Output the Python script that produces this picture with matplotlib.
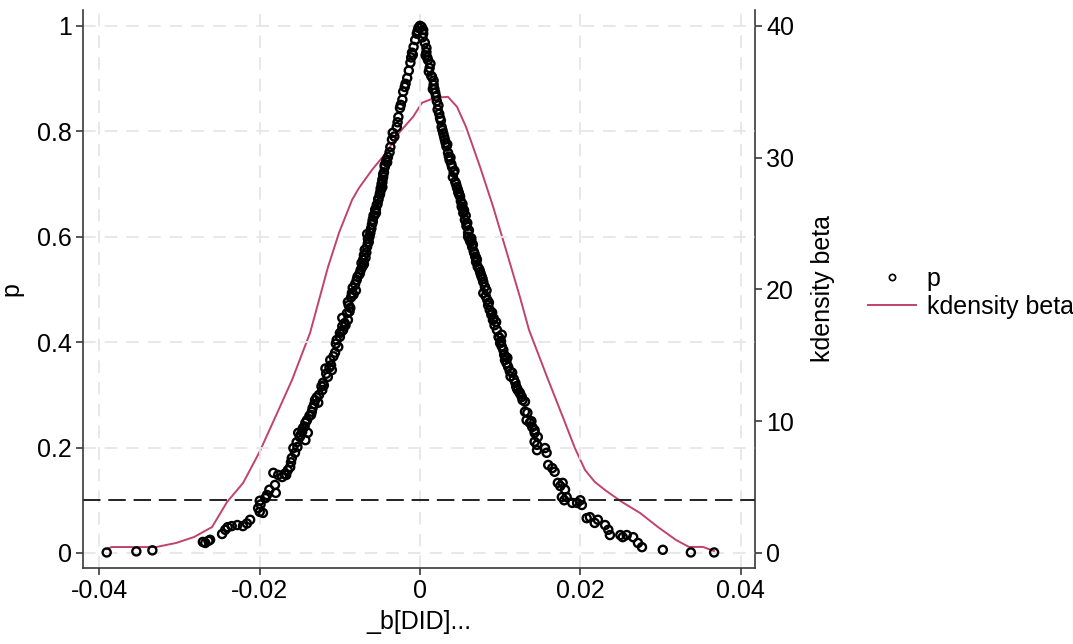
import matplotlib
matplotlib.use("Agg")
import matplotlib.pyplot as plt
from matplotlib.lines import Line2D

plt.rcParams['font.family'] = ['Liberation Sans', 'DejaVu Sans']
plt.rcParams['axes.unicode_minus'] = False

# ---- scatter data: placebo coefficient (beta) and p-value ----
left_beta = [-0.0391, -0.0354, -0.0334,
             -0.0271, -0.0268, -0.0264, -0.0262, -0.0247, -0.0243, -0.0240, -0.0235, -0.0228, -0.0221,
             -0.0216, -0.0212, -0.0200, -0.0196, -0.0202, -0.0199, -0.0200, -0.0193, -0.0191, -0.0188,
             -0.0180, -0.0181, -0.0183, -0.0177, -0.0172, -0.0169, -0.0167, -0.0165, -0.0162, -0.0161,
             -0.0160, -0.0156, -0.0158, -0.0153, -0.0143, -0.0150, -0.0152, -0.0147, -0.0140, -0.0146,
             -0.0143, -0.0141, -0.0138, -0.0135, -0.0134, -0.0132, -0.0131, -0.0126, -0.0122, -0.0123,
             -0.0121, -0.0115, -0.0117, -0.0110, -0.0111, -0.0112, -0.0108, -0.0106, -0.0102, -0.0105,
             -0.0104, -0.0100, -0.0100, -0.0096, -0.0097, -0.0094, -0.0090, -0.0097, -0.0091, -0.0087,
             -0.0089, -0.0090, -0.0086, -0.0085, -0.0084, -0.0081, -0.0079, -0.0078, -0.0075, -0.0074,
             -0.0072, -0.0073, -0.0071, -0.0070, -0.0069, -0.0066, -0.0065, -0.0065, -0.0062, -0.0061,
             -0.0060, -0.0059, -0.0058, -0.0056, -0.0054, -0.0052, -0.0050, -0.0049, -0.0047, -0.0047,
             -0.0046, -0.0045, -0.0044, -0.0041, -0.0040, -0.0038, -0.0037, -0.0035, -0.0034, -0.0029,
             -0.0028, -0.0027, -0.0025, -0.0022, -0.0021, -0.0019, -0.0016, -0.0014, -0.0012, -0.0011,
             -0.0010, -0.0008, -0.0006, -0.0004, -0.0002, 0.0000,
             -0.0057, -0.0053, -0.0050, -0.0048, -0.0046, -0.0044, -0.0061, -0.0063, -0.0067, -0.0068,
             -0.0154, -0.0149, -0.0129, -0.0118, -0.0098, -0.0083, -0.0076, -0.0064, -0.0055, -0.0042,
             -0.0032, -0.0024, -0.0018, -0.0009, -0.0003,
             -0.0059, -0.0055, -0.0052, -0.0049, -0.0047, -0.0070, -0.0066, -0.0080, -0.0088, -0.0093,
             -0.0113, -0.0120, -0.0127, -0.0136, -0.0144]
left_p = [0.001, 0.003, 0.005,
          0.021, 0.019, 0.023, 0.025, 0.036, 0.044, 0.049, 0.051, 0.053, 0.051,
          0.056, 0.063, 0.078, 0.076, 0.085, 0.092, 0.099, 0.104, 0.110, 0.120,
          0.114, 0.129, 0.152, 0.148, 0.144, 0.150, 0.148, 0.157, 0.163, 0.172,
          0.180, 0.190, 0.199, 0.201, 0.214, 0.220, 0.228, 0.230, 0.228, 0.237,
          0.247, 0.252, 0.260, 0.268, 0.275, 0.282, 0.290, 0.300, 0.309, 0.316,
          0.323, 0.334, 0.340, 0.347, 0.356, 0.366, 0.373, 0.380, 0.391, 0.397,
          0.404, 0.410, 0.417, 0.423, 0.430, 0.436, 0.442, 0.446, 0.455, 0.465,
          0.470, 0.476, 0.485, 0.493, 0.503, 0.510, 0.518, 0.524, 0.531, 0.537,
          0.543, 0.550, 0.556, 0.565, 0.575, 0.581, 0.588, 0.596, 0.607, 0.615,
          0.623, 0.632, 0.640, 0.651, 0.660, 0.670, 0.680, 0.688, 0.694, 0.703,
          0.713, 0.722, 0.732, 0.741, 0.751, 0.760, 0.770, 0.784, 0.797, 0.808,
          0.817, 0.827, 0.844, 0.860, 0.875, 0.884, 0.901, 0.915, 0.930, 0.940,
          0.949, 0.960, 0.973, 0.985, 0.996, 1.000,
          0.640, 0.662, 0.682, 0.700, 0.718, 0.736, 0.615, 0.600, 0.570, 0.560,
          0.210, 0.224, 0.295, 0.350, 0.420, 0.490, 0.528, 0.590, 0.645, 0.745,
          0.790, 0.850, 0.890, 0.945, 0.990,
          0.628, 0.652, 0.672, 0.692, 0.708, 0.548, 0.605, 0.498, 0.458, 0.432,
          0.352, 0.318, 0.285, 0.262, 0.240]

right_beta = [0.0002, 0.0004, 0.0006, 0.0008, 0.0010, 0.0012, 0.0015, 0.0017, 0.0019, 0.0021,
              0.0022, 0.0025, 0.0027, 0.0029, 0.0031, 0.0033, 0.0035, 0.0037, 0.0040, 0.0041,
              0.0044, 0.0046, 0.0048, 0.0050, 0.0051, 0.0052, 0.0054, 0.0056, 0.0058, 0.0060,
              0.0062, 0.0060, 0.0063, 0.0065, 0.0067, 0.0069, 0.0070, 0.0072, 0.0075, 0.0077,
              0.0079, 0.0079, 0.0082, 0.0084, 0.0085, 0.0087, 0.0089, 0.0091, 0.0093, 0.0096,
              0.0102, 0.0098, 0.0100, 0.0102, 0.0104, 0.0105, 0.0106, 0.0108, 0.0110, 0.0115,
              0.0113, 0.0119, 0.0120, 0.0122, 0.0125, 0.0127, 0.0131, 0.0131, 0.0134, 0.0133,
              0.0137, 0.0140, 0.0143, 0.0143, 0.0147, 0.0143, 0.0146, 0.0146, 0.0156, 0.0158,
              0.0160, 0.0165, 0.0168, 0.0172, 0.0178, 0.0175, 0.0181, 0.0177, 0.0183, 0.0180,
              0.0190, 0.0196, 0.0200, 0.0202, 0.0208, 0.0212, 0.0218, 0.0222, 0.0231, 0.0235,
              0.0237, 0.0250, 0.0253, 0.0258, 0.0266, 0.0272, 0.0277, 0.0303, 0.0338, 0.0367,
              0.0004, 0.0008, 0.0013, 0.0017, 0.0020, 0.0024, 0.0028, 0.0032, 0.0036, 0.0039,
              0.0043, 0.0047, 0.0053, 0.0057, 0.0061, 0.0066, 0.0071, 0.0074, 0.0081, 0.0090,
              0.0003, 0.0007, 0.0011, 0.0016, 0.0023, 0.0030, 0.0038, 0.0045, 0.0049, 0.0055,
              0.0059, 0.0064, 0.0068, 0.0076, 0.0086, 0.0095, 0.0101, 0.0109, 0.0117, 0.0124,
              0.0009, 0.0014, 0.0018, 0.0026, 0.0034, 0.0042, 0.0048, 0.0053, 0.0058, 0.0064,
              0.0070, 0.0078, 0.0083, 0.0092, 0.0099, 0.0107, 0.0112, 0.0121, 0.0128, 0.0139]
right_p = [0.998, 0.985, 0.968, 0.950, 0.935, 0.920, 0.903, 0.888, 0.873, 0.857,
           0.841, 0.825, 0.808, 0.796, 0.784, 0.771, 0.759, 0.745, 0.732, 0.713,
           0.704, 0.694, 0.685, 0.676, 0.667, 0.657, 0.645, 0.632, 0.620, 0.607,
           0.594, 0.600, 0.590, 0.581, 0.572, 0.562, 0.552, 0.543, 0.533, 0.524,
           0.514, 0.493, 0.487, 0.480, 0.470, 0.461, 0.452, 0.442, 0.432, 0.423,
           0.414, 0.410, 0.398, 0.392, 0.385, 0.376, 0.366, 0.360, 0.353, 0.342,
           0.335, 0.323, 0.316, 0.309, 0.302, 0.296, 0.287, 0.268, 0.266, 0.252,
           0.247, 0.239, 0.233, 0.228, 0.220, 0.211, 0.205, 0.195, 0.199, 0.190,
           0.167, 0.161, 0.154, 0.133, 0.133, 0.127, 0.120, 0.106, 0.106, 0.100,
           0.095, 0.095, 0.100, 0.091, 0.066, 0.068, 0.057, 0.063, 0.053, 0.044,
           0.034, 0.034, 0.030, 0.034, 0.030, 0.019, 0.011, 0.006, 0.001, 0.001,
           0.992, 0.958, 0.928, 0.896, 0.866, 0.833, 0.802, 0.778, 0.752, 0.738,
           0.725, 0.690, 0.662, 0.640, 0.612, 0.585, 0.556, 0.538, 0.505, 0.456,
           0.978, 0.944, 0.913, 0.880, 0.849, 0.790, 0.750, 0.700, 0.680, 0.650,
           0.626, 0.597, 0.568, 0.528, 0.475, 0.438, 0.402, 0.370, 0.330, 0.305,
           0.940, 0.905, 0.880, 0.820, 0.775, 0.722, 0.683, 0.655, 0.625, 0.592,
           0.560, 0.520, 0.498, 0.445, 0.408, 0.372, 0.345, 0.312, 0.290, 0.250]

# ---- kernel density of beta (right axis) ----
kd_x = [-0.03905, -0.0385, -0.0338, -0.03294, -0.03044, -0.0282, -0.02595, -0.02408, -0.02208,
        -0.02009, -0.01822, -0.01597, -0.01372, -0.01260, -0.01148, -0.01011, -0.00848, -0.00761,
        -0.00599, -0.00424, -0.00262, -0.00087, 0.00025, 0.00187, 0.00349, 0.00462, 0.00574,
        0.00749, 0.00911, 0.01073, 0.01248, 0.01360, 0.01585, 0.01797, 0.01930, 0.02059,
        0.02180, 0.02308, 0.02520, 0.02745, 0.02969, 0.03194, 0.03356, 0.03531, 0.03668]
kd_y = [0.30, 0.45, 0.45, 0.45, 0.76, 1.21, 1.97, 3.87, 5.31,
        7.59, 10.09, 13.13, 16.70, 19.20, 21.70, 24.29, 26.79, 27.70,
        29.07, 30.36, 31.88, 33.09, 34.16, 34.54, 34.61, 33.85, 32.33,
        29.30, 26.30, 23.00, 19.40, 16.93, 13.36, 10.09, 8.00, 6.30,
        5.40, 4.78, 3.87, 3.04, 1.97, 0.99, 0.46, 0.46, 0.15]

x_ticks = [-0.04, -0.02, 0, 0.02, 0.04]
x_ticklabels = ["-0.04", "-0.02", "0", "0.02", "0.04"]
y_ticks = [0, 0.2, 0.4, 0.6, 0.8, 1]
y_ticklabels = ["0", "0.2", "0.4", "0.6", "0.8", "1"]
y2_ticks = [0, 10, 20, 30, 40]
y2_ticklabels = ["0", "10", "20", "30", "40"]
p_threshold = 0.1

FS = 18
line_col = '#c0426f'
spine_col = '#3a3a3a'

fig = plt.figure(figsize=(10.73, 6.44), dpi=100)
ax = fig.add_axes([0.0774, 0.118, 0.6262, 0.8665])
ax2 = ax.twinx()
ax.set_zorder(ax2.get_zorder() + 1)
ax.patch.set_visible(False)

xlim = (-0.04205, 0.0418)
ylim = (-0.0285, 1.030)
ax.set_xlim(*xlim)
ax.set_ylim(*ylim)
ax2.set_ylim(ylim[0] * 40, ylim[1] * 40)

# grid
for xt in x_ticks:
    ax.axvline(xt, color='#e6e6e6', lw=1.3, ls=(0, (7, 5)), zorder=0)
for yt in y_ticks:
    ax.axhline(yt, color='#e6e6e6', lw=1.3, ls=(0, (7, 5)), zorder=0)

# kdensity line
ax2.plot(kd_x, kd_y, color=line_col, lw=1.4, zorder=2)

# scatter
ax.scatter(left_beta + right_beta, left_p + right_p, s=34, facecolors='none',
           edgecolors='black', linewidths=1.7, zorder=3)

# threshold line
ax.axhline(p_threshold, color='#222222', lw=1.4, ls=(0, (9, 4)), zorder=2)

ax.set_xticks(x_ticks)
ax.set_xticklabels(x_ticklabels)
ax.set_yticks(y_ticks)
ax.set_yticklabels(y_ticklabels)
ax2.set_yticks(y2_ticks)
ax2.set_yticklabels(y2_ticklabels)

for a in (ax, ax2):
    a.spines['top'].set_visible(False)
    for s in ('left', 'right', 'bottom'):
        a.spines[s].set_color(spine_col)
        a.spines[s].set_linewidth(1.2)
    a.tick_params(direction='out', length=5, width=1.2, color=spine_col,
                  labelsize=FS, pad=3)
ax.spines['right'].set_visible(False)
ax2.spines['left'].set_visible(False)
ax2.spines['bottom'].set_visible(False)

ax.set_xlabel("_b[DID]...", fontsize=FS, labelpad=5)
ax.set_ylabel("p", fontsize=FS, labelpad=10)
ax2.set_ylabel("kdensity beta", fontsize=FS, labelpad=12)

handles = [Line2D([], [], ls='none', marker='o', markersize=4.5, markerfacecolor='none',
                  markeredgecolor='black', markeredgewidth=1.2),
           Line2D([], [], color=line_col, lw=1.4)]
fig.legend(handles, ["p", "kdensity beta"], loc='center left',
           bbox_to_anchor=(0.788, 0.545), frameon=False, fontsize=FS,
           handlelength=1.9, handletextpad=0.45, labelspacing=0.15)

fig.savefig("out.png", dpi=100)
